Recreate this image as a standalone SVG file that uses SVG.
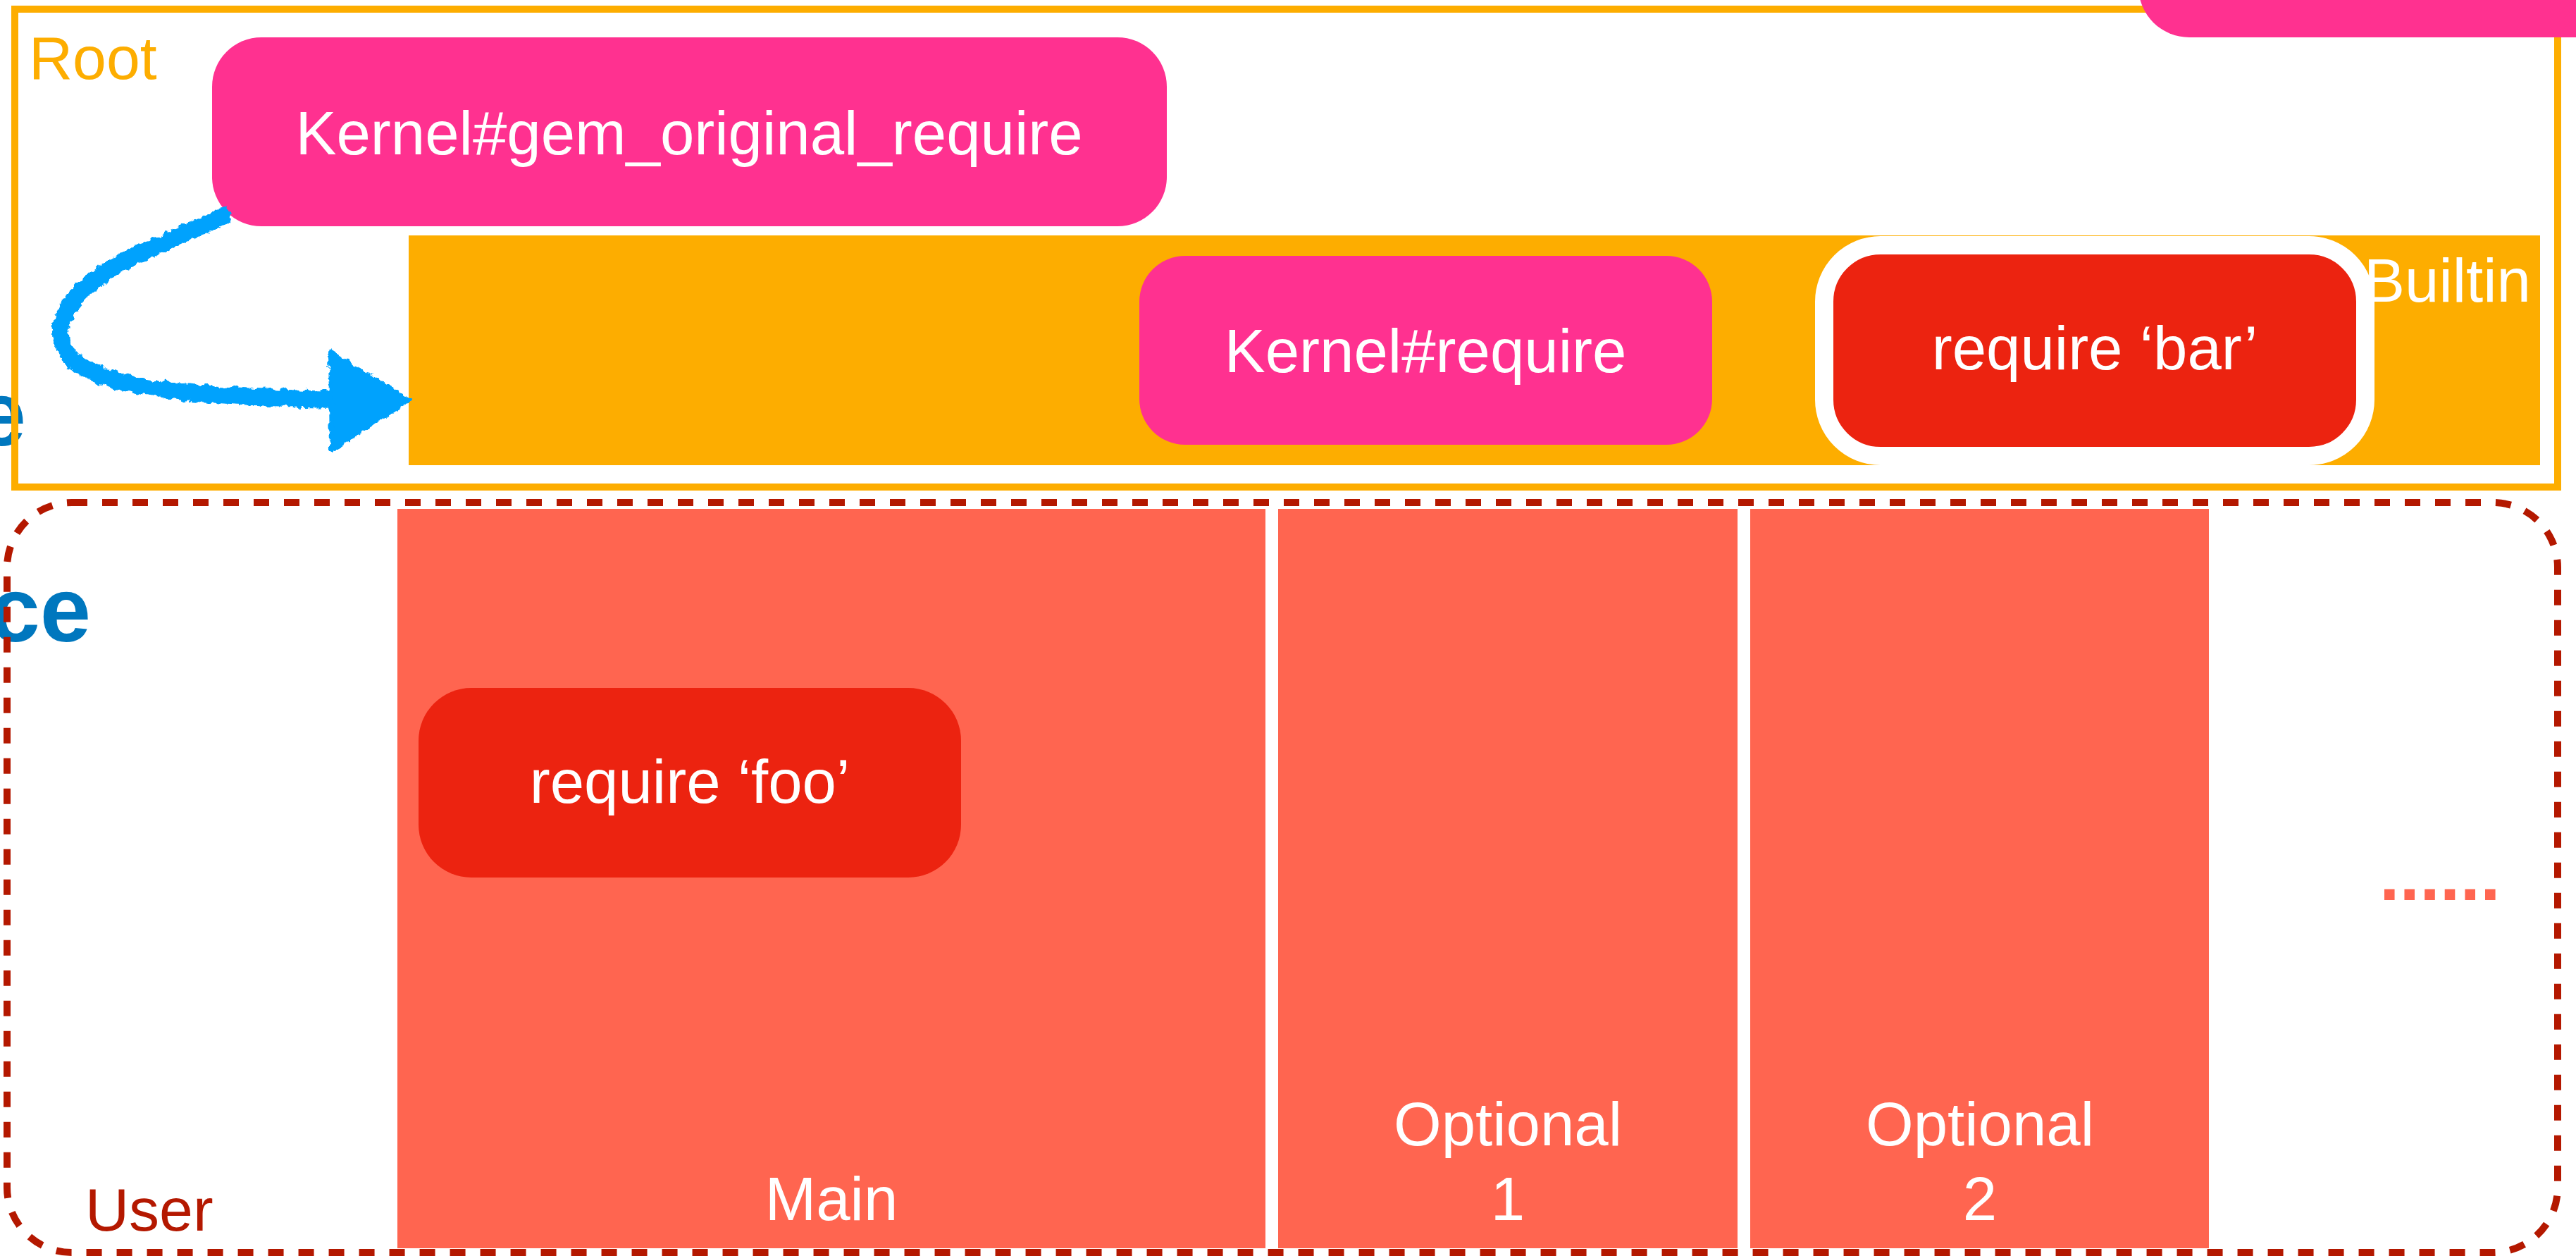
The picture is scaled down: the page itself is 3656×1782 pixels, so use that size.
<svg xmlns="http://www.w3.org/2000/svg" width="3656" height="1782" viewBox="0 0 3656 1782">
  <style>
    .lbl { font-family: "Liberation Sans", Arial, Helvetica, sans-serif; font-size: 87px; fill: #ffffff; text-anchor: middle; }
    .pink { fill: #FF3190; }
    .red { fill: #EC2310; }
    .col { fill: #FF6550; }
    .ns { font-family: "Liberation Sans", Arial, Helvetica, sans-serif; font-weight: bold; font-size: 130px; fill: #0077BE; text-anchor: end; }
  </style>
  <defs>
    <filter id="rough" x="-10%" y="-10%" width="120%" height="120%">
      <feTurbulence type="fractalNoise" baseFrequency="0.09" numOctaves="3" seed="7" result="n"/>
      <feDisplacementMap in="SourceGraphic" in2="n" scale="11" xChannelSelector="R" yChannelSelector="G"/>
    </filter>
  </defs>
  <rect width="3656" height="1782" fill="#ffffff"/>

  <g id="namespace-label">
    <text class="ns" x="37" y="632">e</text>
    <text class="ns" x="129" y="910">ce</text>
  </g>

  <g id="root">
    <rect x="21" y="13" width="3609" height="678" fill="none" stroke="#FDAD00" stroke-width="10"/>
    <text x="41" y="112" style="font-family: 'Liberation Sans', Arial, sans-serif; font-size: 86px; fill: #FDAD00;">Root</text>
  </g>

  <g id="top-right-node">
    <rect class="pink" x="3035" y="-230" width="800" height="283" rx="72"/>
  </g>

  <g id="gem-original-require">
    <rect class="pink" x="301" y="53" width="1355" height="268" rx="70"/>
    <text class="lbl" x="978" y="219">Kernel#gem_original_require</text>
  </g>

  <g id="builtin">
    <rect x="580" y="334" width="3025" height="326" fill="#FDAD00"/>
  </g>

  <g id="kernel-require">
    <rect class="pink" x="1617" y="363" width="813" height="268" rx="65"/>
    <text class="lbl" x="2023" y="528">Kernel#require</text>
  </g>

  <g id="require-bar">
    <rect class="red" x="2589" y="348" width="768" height="299" rx="80" stroke="#ffffff" stroke-width="26"/>
    <text class="lbl" x="2973" y="524">require ‘bar’</text>
  </g>

  <g id="builtin-label">
    <text x="3355" y="428" style="font-family: 'Liberation Sans', Arial, sans-serif; font-size: 87px; fill: #ffffff;">Builtin</text>
  </g>

  <g id="user">
    <rect x="10" y="713" width="3620" height="1064" rx="92" fill="none" stroke="#B41800" stroke-width="10" stroke-dasharray="22 21"/>
    <text x="121" y="1746" style="font-family: 'Liberation Sans', Arial, sans-serif; font-size: 86px; fill: #B41800;">User</text>
  </g>

  <g id="main">
    <rect class="col" x="564" y="722" width="1232" height="1049"/>
    <text class="lbl" x="1180" y="1731">Main</text>
  </g>

  <g id="optional-1">
    <rect class="col" x="1814" y="722" width="652" height="1049"/>
    <text class="lbl" x="2140" y="1625">Optional</text>
    <text class="lbl" x="2140" y="1731">1</text>
  </g>

  <g id="optional-2">
    <rect class="col" x="2484" y="722" width="651" height="1049"/>
    <text class="lbl" x="2810" y="1625">Optional</text>
    <text class="lbl" x="2810" y="1731">2</text>
  </g>

  <g id="more">
    <text x="3377" y="1277" style="font-family: 'Liberation Sans', Arial, sans-serif; font-weight: bold; font-size: 103px; fill: #FF6550;">......</text>
  </g>

  <g id="require-foo">
    <rect class="red" x="594" y="976" width="770" height="269" rx="75"/>
    <text class="lbl" x="979" y="1139">require ‘foo’</text>
  </g>

  <g id="connectors">
    <g filter="url(#rough)" fill="#03A2FD" stroke="#03A2FD">
      <path d="M 318 306 C 200 360, 84 400, 86 475 C 88 530, 180 548, 260 556 C 340 563, 420 566, 480 567" fill="none" stroke-width="24" stroke-linecap="round"/>
      <polygon points="469,500 580,567 471,638" stroke-width="6" stroke-linejoin="round"/>
    </g>
  </g>
</svg>
